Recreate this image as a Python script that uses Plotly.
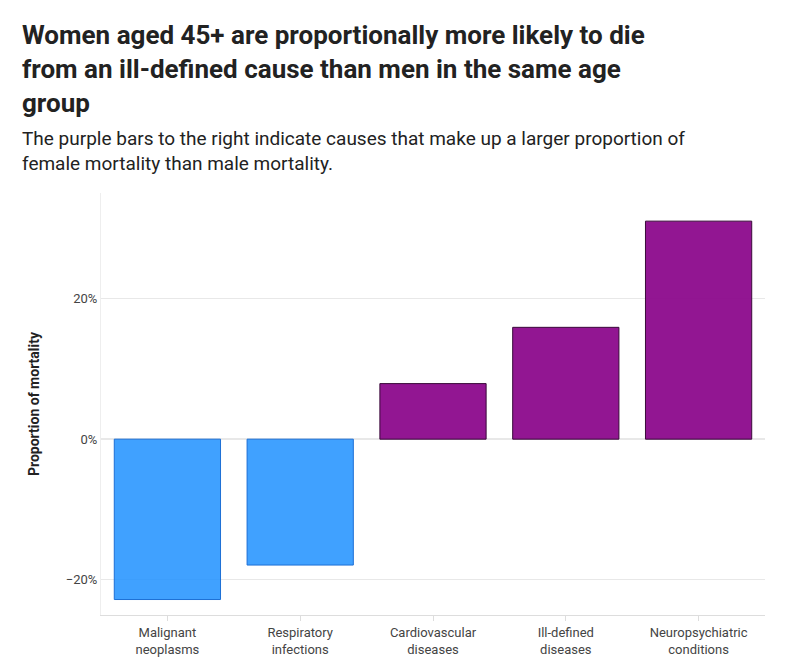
import plotly.graph_objects as go

categories = ["Malignant<br>neoplasms", "Respiratory<br>infections", "Cardiovascular<br>diseases", "Ill-defined<br>diseases", "Neuropsychiatric<br>conditions"]
values = [-0.228, -0.179, 0.079, 0.159, 0.31]

colors = ["rgba(30,144,255,0.85)" if v < 0 else "rgba(140,10,140,0.95)" for v in values]
lines = ["#1c6fd6" if v < 0 else "#3a0a3a" for v in values]

fig = go.Figure(go.Bar(x=categories, y=values, marker=dict(color=colors, line=dict(color=lines, width=1)), width=0.8))
fig.update_layout(
    width=794, height=665, plot_bgcolor="white", paper_bgcolor="white",
    margin=dict(l=93, r=37, t=185, b=58),
    font=dict(family="Roboto", color="#222"),
    annotations=[
        dict(text="<b>Women aged 45+ are proportionally more likely to die<br>from an ill-defined cause than men in the same age<br>group</b>",
             xref="paper", yref="paper", x=-0.122, y=1.415, xanchor="left", yanchor="top", align="left",
             showarrow=False, font=dict(size=26, color="#222")),
        dict(text="The purple bars to the right indicate causes that make up a larger proportion of<br>female mortality than male mortality.",
             xref="paper", yref="paper", x=-0.122, y=1.16, xanchor="left", yanchor="top", align="left",
             showarrow=False, font=dict(size=19, color="#222")),
    ],
    showlegend=False,
)
fig.update_yaxes(tickformat=".0%", dtick=0.2, range=[-0.25, 0.35], gridcolor="#e8e8e8", zeroline=True, zerolinecolor="#e8e8e8",
                 title=dict(text="<b>Proportion of mortality</b>", font=dict(size=14), standoff=22), tickfont=dict(size=13, color="#444"),
                 showline=True, linecolor="#eee", ticks="", automargin=False)
fig.update_xaxes(tickfont=dict(size=13, color="#444"), showline=True, linecolor="#ddd", ticks="outside", tickcolor="#ddd", ticklen=5, automargin=False)
fig.write_html("out.html")
